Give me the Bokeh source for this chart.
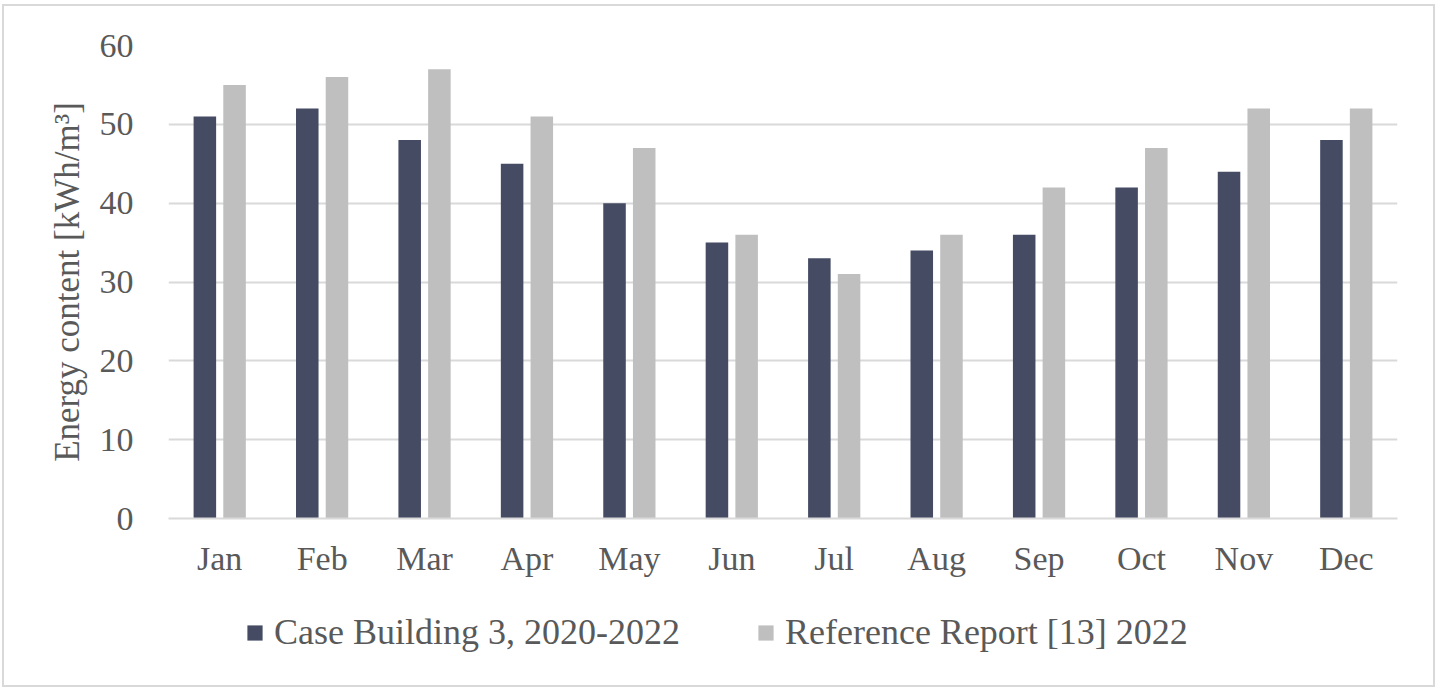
from bokeh.plotting import figure
from bokeh.models import ColumnDataSource, Legend, LegendItem, FactorRange, SingleIntervalTicker
from bokeh.layouts import column
from bokeh.transform import dodge
from bokeh.embed import file_html
from bokeh.resources import INLINE

months = ["Jan", "Feb", "Mar", "Apr", "May", "Jun", "Jul", "Aug", "Sep", "Oct", "Nov", "Dec"]
case_building = [51, 52, 48, 45, 40, 35, 33, 34, 36, 42, 44, 48]
reference_report = [55, 56, 57, 51, 47, 36, 31, 36, 42, 47, 52, 52]
series_names = ["Case Building 3, 2020-2022", "Reference Report [13] 2022"]

src = ColumnDataSource(dict(month=months, a=case_building, b=reference_report))

FONT = "Liberation Serif"
TXT = "#595959"
DARK = "#444b63"
LIGHT = "#bfbfbf"
GRID = "#d9d9d9"

xr = FactorRange(*months)

p = figure(x_range=xr, y_range=(0, 60), width=1425, height=575,
           min_border_left=162, min_border_right=34, min_border_top=37, min_border_bottom=65,
           output_backend="svg", toolbar_location=None)

p.vbar(x=dodge("month", -0.145, range=xr), top="a", width=0.22, source=src,
       fill_color=DARK, line_color=None)
p.vbar(x=dodge("month", 0.145, range=xr), top="b", width=0.22, source=src,
       fill_color=LIGHT, line_color=None)

p.outline_line_color = None
p.xgrid.grid_line_color = None
p.ygrid.grid_line_color = GRID
p.ygrid.grid_line_width = 2
p.yaxis.ticker = SingleIntervalTicker(interval=10)

p.yaxis.axis_line_color = None
p.yaxis.major_tick_line_color = None
p.yaxis.minor_tick_line_color = None
p.yaxis.major_label_text_font = FONT
p.yaxis.major_label_text_font_size = "34px"
p.yaxis.major_label_text_color = TXT
p.yaxis.major_label_standoff = 29
p.yaxis.axis_label = "Energy content [kWh/m³]"
p.yaxis.axis_label_text_font = FONT
p.yaxis.axis_label_text_font_size = "35px"
p.yaxis.axis_label_text_font_style = "normal"
p.yaxis.axis_label_text_color = TXT
p.yaxis.axis_label_standoff = 10

p.xaxis.axis_line_color = GRID
p.xaxis.axis_line_width = 2
p.xaxis.major_tick_line_color = None
p.xaxis.minor_tick_line_color = None
p.xaxis.major_label_text_font = FONT
p.xaxis.major_label_text_font_size = "34px"
p.xaxis.major_label_text_color = TXT
p.xaxis.major_label_standoff = 15

# legend strip: same series drawn out of view, only their legend is shown
p2 = figure(x_range=xr, y_range=(1000, 1001), width=1425, height=100,
            min_border=0, x_axis_location=None, y_axis_location=None,
            output_backend="svg", toolbar_location=None)
p2.outline_line_color = None
p2.grid.grid_line_color = None
l1 = p2.vbar(x=dodge("month", -0.145, range=xr), top="a", width=0.22, source=src,
             fill_color=DARK, line_color=None)
l2 = p2.vbar(x=dodge("month", 0.145, range=xr), top="b", width=0.22, source=src,
             fill_color=LIGHT, line_color=None)

legend = Legend(items=[LegendItem(label=series_names[0], renderers=[l1]),
                       LegendItem(label=series_names[1], renderers=[l2])],
                orientation="horizontal", location=(77, 30),
                glyph_width=19, glyph_height=19, label_standoff=10, spacing=76,
                padding=0, margin=0, border_line_color=None, background_fill_alpha=0,
                label_text_font=FONT, label_text_font_size="36px", label_text_color=TXT)
p2.add_layout(legend, "center")

layout = column(p, p2, spacing=0)
layout.styles = {"outline": "2px solid #d9d9d9", "outline-offset": "2px",
                 "margin-left": "6px", "margin-top": "8px"}

open("out.html", "w").write(file_html(layout, INLINE))
